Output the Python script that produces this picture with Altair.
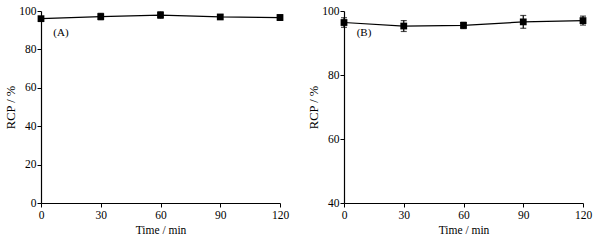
import altair as alt
import pandas as pd

times = [0, 30, 60, 90, 120]
rcp_a = [96.0, 97.1, 97.9, 96.9, 96.6]
err_a = [0.6, 1.7, 1.7, 1.1, 1.5]
rcp_b = [96.4, 95.3, 95.5, 96.6, 97.0]
err_b = [1.5, 1.7, 1.0, 2.0, 1.4]

FONT = "Liberation Serif"


def make_df(vals, errs):
    return pd.DataFrame({
        "t": times,
        "v": vals,
        "lo": [v - e for v, e in zip(vals, errs)],
        "hi": [v + e for v, e in zip(vals, errs)],
    })


def panel(vals, errs, ydomain, yticks, label):
    df = make_df(vals, errs)
    base = alt.Chart(df)
    xscale = alt.Scale(domain=[0, 120], nice=False)
    yscale = alt.Scale(domain=ydomain, nice=False, zero=False)
    xaxis = alt.Axis(values=times, title="Time / min", labelPadding=2, titlePadding=4)
    yaxis = alt.Axis(values=yticks, title="RCP / %", titleFontSize=12.5)

    def X(f):
        return alt.X(f, type="quantitative", scale=xscale, axis=xaxis)

    def Y(f):
        return alt.Y(f, type="quantitative", scale=yscale, axis=yaxis)

    line = base.mark_line(color="black", strokeWidth=1.2).encode(x=X("t"), y=Y("v"))
    bars = base.mark_rule(color="black", strokeWidth=1.2).encode(
        x=X("t"), y=Y("lo"), y2="hi:Q")
    caps_lo = base.mark_tick(color="black", thickness=1.2, size=6, orient="horizontal").encode(
        x=X("t"), y=Y("lo"))
    caps_hi = base.mark_tick(color="black", thickness=1.2, size=6, orient="horizontal").encode(
        x=X("t"), y=Y("hi"))
    pts = base.mark_point(shape="square", filled=True, color="black", size=46, opacity=1).encode(
        x=X("t"), y=Y("v"))
    txt = alt.Chart(pd.DataFrame({"l": [label]})).mark_text(
        font=FONT, fontSize=11, fontWeight="normal", color="black", align="center", baseline="middle"
    ).encode(text="l:N", x=alt.value(20), y=alt.value(22))
    return alt.layer(line, bars, caps_lo, caps_hi, pts, txt).properties(width=239, height=192)


left = panel(rcp_a, err_a, [0, 100], [0, 20, 40, 60, 80, 100], "(A)")
right = panel(rcp_b, err_b, [40, 100], [40, 60, 80, 100], "(B)")

chart = alt.hconcat(left, right, spacing=18).properties(
    padding={"left": 4, "top": 5, "right": 5, "bottom": 5},
    background="white",
).configure_view(stroke=None).configure_axis(
    domainColor="black", domainWidth=1.2, tickColor="black", tickSize=4, tickWidth=1,
    grid=False, labelFont=FONT, labelFontSize=11.5, labelColor="black",
    titleFont=FONT, titleFontSize=11.5, titleFontWeight="normal", titleColor="black",
    labelPadding=1, titlePadding=1, labelFlush=False, labelOverlap=False
)

chart.save("out.html", embed_options={"renderer": "svg", "actions": False})
